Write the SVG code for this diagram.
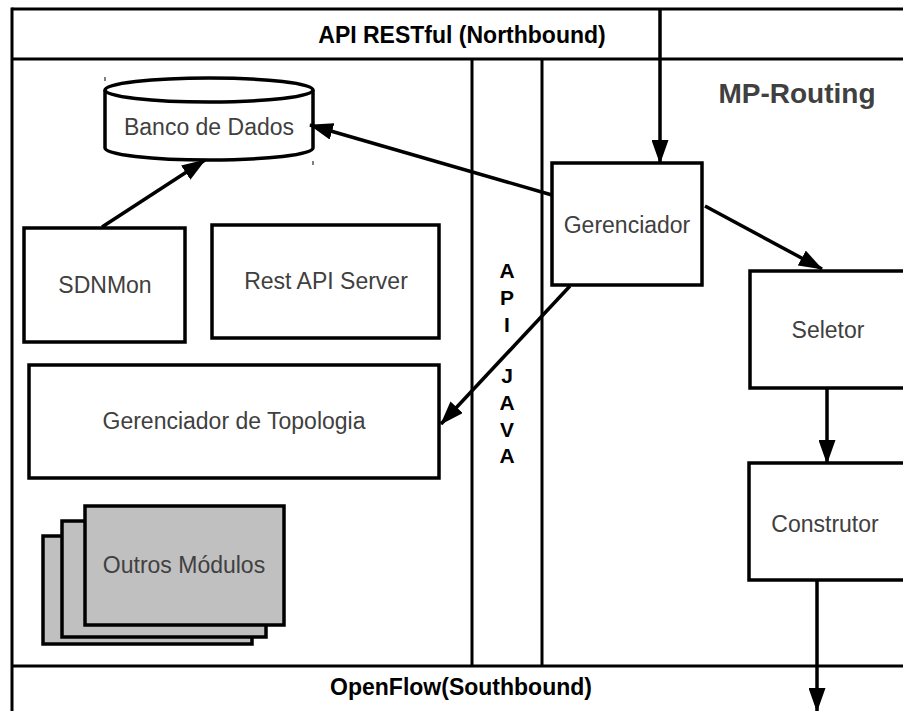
<svg xmlns="http://www.w3.org/2000/svg" width="903" height="711" viewBox="0 0 903 711">
  <defs>
    <style>
      .frame { fill: none; stroke: #000; stroke-width: 3; }
      .box { fill: #fff; stroke: #000; stroke-width: 3.5; }
      .stack { fill: #c0c0c0; stroke: #000; stroke-width: 3.5; }
      .label { font-family: "Liberation Sans", Arial, sans-serif; font-size: 23px; fill: #404040; text-anchor: middle; }
      .title { font-family: "Liberation Sans", Arial, sans-serif; font-size: 23px; font-weight: bold; fill: #000; text-anchor: middle; }
      .api { font-family: "Liberation Sans", Arial, sans-serif; font-size: 21px; font-weight: bold; fill: #000; text-anchor: middle; }
      .conn { fill: none; stroke: #000; stroke-width: 3.5; marker-end: url(#arrow); }
      .tick { stroke: #000; stroke-width: 1; }
    </style>
    <marker id="arrow" viewBox="0 0 24 17" refX="23" refY="8.5" markerWidth="24" markerHeight="17" markerUnits="userSpaceOnUse" orient="auto">
      <path d="M0,0 L24,8.5 L0,17 Z" fill="#000"/>
    </marker>
  </defs>

  <rect width="903" height="711" fill="#fff"/>

  <!-- outer frame with northbound and southbound bands -->
  <g id="frame">
    <line class="frame" x1="12" y1="9" x2="903" y2="9"/>
    <line class="frame" x1="12" y1="7.5" x2="12" y2="711"/>
    <line class="frame" x1="12" y1="59" x2="903" y2="59"/>
    <line class="frame" x1="12" y1="666" x2="903" y2="666"/>
    <text class="title" x="462" y="43">API RESTful (Northbound)</text>
    <text class="title" x="461" y="695">OpenFlow(Southbound)</text>
  </g>

  <!-- Java API column -->
  <g id="api-java">
    <line class="frame" x1="472" y1="59" x2="472" y2="666"/>
    <line class="frame" x1="542" y1="59" x2="542" y2="666"/>
    <text class="api" x="507" y="278">A</text>
    <text class="api" x="507" y="305">P</text>
    <text class="api" x="507" y="332">I</text>
    <text class="api" x="507" y="383">J</text>
    <text class="api" x="507" y="410">A</text>
    <text class="api" x="507" y="437">V</text>
    <text class="api" x="507" y="463">A</text>
  </g>

  <g id="mp-routing-title">
    <text x="797" y="103" font-family="'Liberation Sans', Arial, sans-serif" font-size="28" font-weight="bold" fill="#404040" text-anchor="middle">MP-Routing</text>
  </g>

  <!-- database cylinder -->
  <g id="banco-de-dados">
    <path class="box" d="M105,90 L105,148 A104,12 0 0 0 313,148 L313,90"/>
    <ellipse class="box" cx="209" cy="90" rx="104" ry="12"/>
    <line class="tick" x1="105" y1="77" x2="105" y2="81"/>
    <line class="tick" x1="313" y1="161" x2="313" y2="165"/>
    <text class="label" x="209" y="135">Banco de Dados</text>
  </g>

  <g id="sdnmon">
    <rect class="box" x="24" y="228" width="161" height="114"/>
    <text class="label" x="105" y="293">SDNMon</text>
  </g>

  <g id="rest-api-server">
    <rect class="box" x="212" y="225" width="227" height="113"/>
    <text class="label" x="326" y="289">Rest API Server</text>
  </g>

  <g id="gerenciador-de-topologia">
    <rect class="box" x="29" y="365" width="410" height="113"/>
    <text class="label" x="234" y="429">Gerenciador de Topologia</text>
  </g>

  <g id="outros-modulos">
    <rect class="stack" x="43" y="536" width="209" height="108"/>
    <rect class="stack" x="62" y="521" width="204" height="116"/>
    <rect class="stack" x="85" y="506" width="199" height="119"/>
    <text class="label" x="184" y="573">Outros Módulos</text>
  </g>

  <g id="gerenciador">
    <rect class="box" x="552" y="163" width="150" height="122"/>
    <text class="label" x="627" y="233">Gerenciador</text>
  </g>

  <g id="seletor">
    <rect class="box" x="750" y="271" width="160" height="117"/>
    <text class="label" x="828" y="338">Seletor</text>
  </g>

  <g id="construtor">
    <rect class="box" x="749" y="463" width="160" height="117"/>
    <text class="label" x="825" y="532">Construtor</text>
  </g>

  <!-- connectors -->
  <g id="connectors">
    <line class="conn" x1="660" y1="9" x2="660" y2="163"/>
    <line class="conn" x1="552" y1="195" x2="310" y2="125"/>
    <line class="conn" x1="102" y1="227" x2="205" y2="160"/>
    <line class="conn" x1="570" y1="286" x2="441" y2="424"/>
    <line class="conn" x1="705" y1="206" x2="822" y2="269"/>
    <line class="conn" x1="827" y1="388" x2="827" y2="463"/>
    <line class="conn" x1="817" y1="580" x2="817" y2="711"/>
  </g>
</svg>
